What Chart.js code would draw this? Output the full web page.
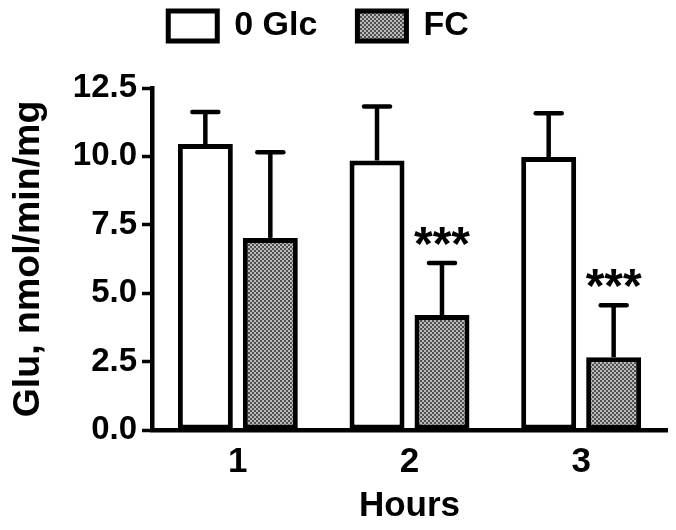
<!DOCTYPE html>
<html><head><meta charset="utf-8">
<script src="https://cdn.jsdelivr.net/npm/chart.js@4"></script>
<style>html,body{margin:0;padding:0;background:#fff;}</style>
</head><body>
<canvas id="c" width="676" height="530" style="display:block;width:676px;height:530px"></canvas>
<script>
const categories = ['1', '2', '3'];
const seriesNames = ['0 Glc', 'FC'];
const glc0Values = [10.45, 9.85, 9.98];
const glc0Errors = [1.17, 1.97, 1.6];
const fcValues = [7.02, 4.2, 2.66];
const fcErrors = [3.13, 1.9, 1.9];
const fcSignificance = ['', '***', '***'];
const yTicks = [0, 2.5, 5, 7.5, 10, 12.5];

const FONT = '"Liberation Sans", Arial, sans-serif';

function makePattern() {
  const c = document.createElement('canvas');
  c.width = 4; c.height = 4;
  const g = c.getContext('2d');
  g.fillStyle = '#bbbbbb'; g.fillRect(0, 0, 4, 4);
  g.fillStyle = '#505050'; g.fillRect(0, 0, 2, 2); g.fillRect(2, 2, 2, 2);
  return g.createPattern(c, 'repeat');
}
const fcPattern = makePattern();

const errorBarPlugin = {
  id: 'errorBars',
  afterDatasetsDraw(chart) {
    const ctx = chart.ctx;
    const y = chart.scales.y;
    chart.data.datasets.forEach((ds, di) => {
      const meta = chart.getDatasetMeta(di);
      meta.data.forEach((bar, i) => {
        const v = ds.data[i], e = ds.errors[i];
        const base = y.getPixelForValue(v);
        const top = y.getPixelForValue(v + e);
        ctx.save();
        ctx.strokeStyle = '#000';
        ctx.lineWidth = 4.5;
        ctx.beginPath();
        ctx.moveTo(bar.x, base);
        ctx.lineTo(bar.x, top);
        ctx.stroke();
        ctx.lineCap = 'round';
        ctx.beginPath();
        ctx.moveTo(bar.x - 13, top);
        ctx.lineTo(bar.x + 13, top);
        ctx.stroke();
        const mark = ds.marks ? ds.marks[i] : '';
        if (mark) {
          ctx.font = 'bold 48px ' + FONT;
          ctx.fillStyle = '#000';
          ctx.textAlign = 'center';
          ctx.textBaseline = 'alphabetic';
          const m = ctx.measureText(mark);
          ctx.fillText(mark, bar.x, top - 18 - m.actualBoundingBoxDescent);
        }
        ctx.restore();
      });
    });
  }
};

const legendShift = {
  id: 'legendShift',
  afterLayout(chart) {
    const lg = chart.legend;
    if (lg) { lg.left -= 15; lg.right -= 15; lg.top -= 35; lg.bottom -= 35; }
  }
};

new Chart(document.getElementById('c'), {
  type: 'bar',
  data: {
    labels: categories,
    datasets: [
      { label: seriesNames[0], data: glc0Values, errors: glc0Errors,
        backgroundColor: '#ffffff', borderColor: '#000000', borderWidth: 5, borderSkipped: false },
      { label: seriesNames[1], data: fcValues, errors: fcErrors, marks: fcSignificance,
        backgroundColor: fcPattern, borderColor: '#000000', borderWidth: 5, borderSkipped: false }
    ]
  },
  options: {
    responsive: false,
    animation: false,
    devicePixelRatio: 1,
    categoryPercentage: 0.757,
    barPercentage: 0.846,
    layout: { padding: { left: 0, right: 9, top: 4, bottom: 0 } },
    plugins: {
      tooltip: { enabled: false },
      legend: {
        display: true,
        position: 'top',
        labels: {
          color: '#000',
          font: { family: FONT, size: 34, weight: 'bold' },
          boxWidth: 49,
          boxHeight: 30,
          padding: 40
        }
      }
    },
    scales: {
      x: {
        grid: { display: false, drawTicks: false },
        border: { display: true, color: '#000', width: 4.5 },
        ticks: { color: '#000', font: { family: FONT, size: 35, weight: 'bold' }, padding: 11 },
        title: { display: true, text: 'Hours', color: '#000',
                 font: { family: FONT, size: 35, weight: 'bold' }, padding: { top: 0, bottom: 3 } },
        afterFit(s) { s.height = 100; }
      },
      y: {
        min: 0, max: 12.5,
        afterBuildTicks(s) { s.ticks = yTicks.map(v => ({ value: v })); },
        grid: { drawOnChartArea: false, drawTicks: true, tickLength: 10, tickWidth: 3.5, tickColor: '#000' },
        border: { display: true, color: '#000', width: 4.5 },
        ticks: { color: '#000', font: { family: FONT, size: 33, weight: 'bold' }, padding: 5,
                 callback: v => Number(v).toFixed(1) },
        title: { display: true, text: 'Glu, nmol/min/mg', color: '#000',
                 font: { family: FONT, size: 37.5, weight: 'bold' }, padding: { top: 6, bottom: 0 } },
        afterFit(s) { s.width = 152; }
      }
    }
  },
  plugins: [errorBarPlugin, legendShift]
});
</script>
</body></html>
